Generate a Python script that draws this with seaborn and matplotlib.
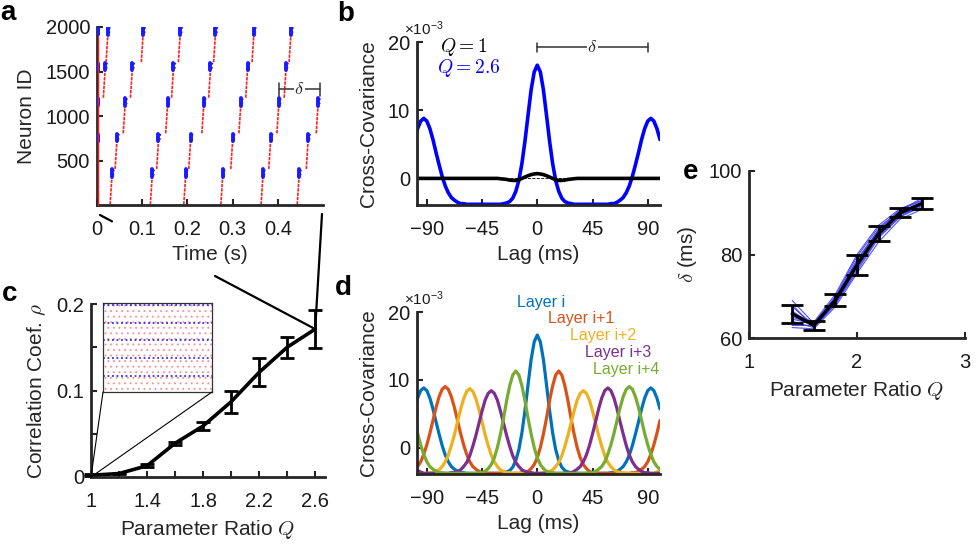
import numpy as np
import pandas as pd
import matplotlib
matplotlib.use("Agg")
import matplotlib.pyplot as plt
import seaborn as sns
from matplotlib.lines import Line2D
from matplotlib.patches import Rectangle, ConnectionPatch

# ---------------- data ----------------
# (a) raster: times (s) of the wave in each 400-neuron layer
layer0_bursts = [0.033, 0.122, 0.196, 0.278, 0.367, 0.447]
layer1_bursts = [0.044, 0.136, 0.207, 0.300, 0.384, 0.467]
layer2_bursts = [0.062, 0.156, 0.236, 0.318, 0.402, 0.489]
layer3_bursts = [0.018, 0.078, 0.169, 0.251, 0.333, 0.418]
layer4_bursts = [0.024, 0.102, 0.184, 0.262, 0.347, 0.429]
init_blue_layers = [1, 2, 3, 4]
a_xticks = [0, 0.1, 0.2, 0.3, 0.4]
a_yticks = [500, 1000, 1500, 2000]
a_delta_span = [0.403, 0.493]
a_delta_level = 1300

# (b), (d) cross-covariance (x 1e-3) vs lag (ms), lags -100 ... 100 step 2.5
lags = [-100 + 2.5 * k for k in range(81)]
cov_q1 = ([0.0] * 28
          + [-0.05, -0.1, -0.15, -0.25, -0.3, -0.3, -0.2, 0.0, 0.2, 0.4, 0.55, 0.65]
          + [0.7]
          + [0.65, 0.55, 0.4, 0.2, 0.0, -0.2, -0.3, -0.3, -0.25, -0.15, -0.1, -0.05]
          + [0.0] * 28)
cov_q26 = ([5.7, 7.3, 8.4, 8.8, 8.4, 7.3, 5.7, 3.8, 2.0, 0.3, -1.1, -2.1, -2.8, -3.2, -3.5, -3.7, -3.7]
           + [-3.8] * 12
           + [-3.7, -3.6, -3.4, -2.9, -1.9, -0.3, 2.2, 5.5, 9.3, 13.0, 15.6]
           + [16.6]
           + [15.6, 13.0, 9.3, 5.5, 2.2, -0.3, -1.9, -2.9, -3.4, -3.6, -3.7]
           + [-3.8] * 12
           + [-3.7, -3.7, -3.5, -3.2, -2.8, -2.1, -1.1, 0.3, 2.0, 3.8, 5.7, 7.3, 8.4, 8.8, 8.4, 7.3, 5.7])
cov_layer_i = cov_q26
cov_layer_i1 = ([-3.2, -2.8, -2.1, -1.0, 0.4, 2.1, 4.0, 5.9, 7.5, 8.6, 9.0, 8.6, 7.5, 5.9, 4.0, 2.1,
                 0.4, -1.0, -2.1, -2.8, -3.2, -3.5, -3.7, -3.7, -3.8]
                + [-3.8] * 10
                + [-3.7, -3.7, -3.5, -3.1, -2.5, -1.5, 0.0, 2.0, 4.3, 6.9, 9.1, 10.7, 11.3, 10.7, 9.1,
                   6.9, 4.3, 2.0, 0.0, -1.5, -2.5, -3.1, -3.5, -3.7, -3.7, -3.8]
                + [-3.8] * 10
                + [-3.7, -3.7, -3.5, -3.2, -2.8, -2.1, -1.0, 0.4, 2.1, 4.0])
cov_layer_i2 = ([-3.8, -3.8, -3.8, -3.8, -3.8, -3.7]
                + [-3.7, -3.5, -3.3, -2.8, -2.1, -1.1, 0.3, 1.9, 3.8, 5.6, 7.2, 8.3, 8.7, 8.3, 7.2,
                   5.6, 3.8, 1.9, 0.3, -1.1, -2.1, -2.8, -3.3, -3.5, -3.7, -3.7, -3.8]
                + [-3.8] * 9
                + [-3.7, -3.7, -3.5, -3.3, -2.8, -2.2, -1.2, 0.2, 1.8, 3.6, 5.4, 7.0, 8.0, 8.4, 8.0,
                   7.0, 5.4, 3.6, 1.8, 0.2, -1.2, -2.2, -2.8, -3.3, -3.5, -3.7, -3.7, -3.8]
                + [-3.8] * 9 + [-3.6, -3.4])
cov_layer_i3 = ([-3.0, -3.4, -3.6, -3.8]
                + [-3.8] * 8
                + [-3.7, -3.7, -3.5, -3.3, -2.8, -2.2, -1.2, 0.2, 1.8, 3.6, 5.4, 7.0, 8.0, 8.4, 8.0,
                   7.0, 5.4, 3.6, 1.8, 0.2, -1.2, -2.2, -2.8, -3.3, -3.5, -3.7, -3.7, -3.8]
                + [-3.8] * 10
                + [-3.7, -3.7, -3.5, -3.2, -2.8, -2.1, -1.1, 0.3, 2.0, 3.8, 5.7, 7.3, 8.4, 8.8, 8.4,
                   7.3, 5.7, 3.8, 2.0, 0.3, -1.1, -2.1, -2.8, -3.2, -3.5, -3.7, -3.7, -3.8, -3.8,
                   -3.8, -3.8])
cov_layer_i4 = ([4.0, 2.1, 0.4, -1.0, -2.1, -2.8, -3.2, -3.5, -3.7, -3.7]
                + [-3.8] * 10
                + [-3.8, -3.7, -3.7, -3.5, -3.1, -2.5, -1.5, 0.0, 2.0, 4.3, 6.9, 9.1, 10.7, 11.3, 10.7,
                   9.1, 6.9, 4.3, 2.0, 0.0, -1.5, -2.5, -3.1, -3.5, -3.7, -3.7]
                + [-3.8] * 10
                + [-3.8, -3.7, -3.7, -3.5, -3.2, -2.8, -2.1, -1.0, 0.4, 2.1, 4.0, 5.9, 7.5, 8.6, 9.0,
                   8.6, 7.5, 5.9, 4.0, 2.1, 0.4, -1.0, -2.1, -2.8, -3.2])
layer_names = ["Layer i", "Layer i+1", "Layer i+2", "Layer i+3", "Layer i+4"]
layer_colors = ["#0072BD", "#D95319", "#EDB120", "#7E2F8E", "#77AC30"]
lag_ticks = [-90, -45, 0, 45, 90]
cov_yticks = [0, 10, 20]
b_delta_span = [0, 90]
b_delta_level = 19.2

# (c) correlation coefficient vs Q
q_c = [1.0, 1.2, 1.4, 1.6, 1.8, 2.0, 2.2, 2.4, 2.6]
rho = [0.002, 0.004, 0.013, 0.039, 0.059, 0.087, 0.121, 0.150, 0.171]
rho_err = [0.001, 0.001, 0.002, 0.002, 0.005, 0.013, 0.016, 0.012, 0.022]
c_xticks = [1.0, 1.2, 1.4, 1.6, 1.8, 2.0, 2.2, 2.4, 2.6]
c_xlabels = ["1", "", "1.4", "", "1.8", "", "2.2", "", "2.6"]
c_yticks = [0, 0.05, 0.1, 0.15, 0.2]
c_ylabels = ["0", "", "0.1", "", "0.2"]
inset_inhib_rows = [360, 760, 1160, 1560, 1960]

# (e) wave period delta vs Q
q_e = [1.4, 1.6, 1.8, 2.0, 2.2, 2.4, 2.6]
delta_mean = [65.8, 63.0, 69.1, 77.5, 85.0, 90.0, 92.2]
delta_err = [2.2, 1.1, 1.5, 2.5, 1.75, 1.1, 1.3]
trace1 = [69.0, 63.5, 70.0, 79.5, 86.5, 90.5, 93.5]
trace2 = [67.5, 63.0, 69.5, 78.5, 86.0, 90.8, 92.8]
trace3 = [66.5, 62.8, 68.5, 77.0, 84.5, 89.5, 92.0]
trace4 = [65.0, 63.2, 69.0, 78.0, 85.5, 90.2, 92.5]
trace5 = [64.0, 62.5, 68.0, 76.0, 84.0, 89.0, 91.5]
trace6 = [63.0, 63.0, 68.8, 77.5, 85.0, 89.8, 91.0]
trace7 = [62.5, 62.2, 67.5, 75.5, 83.0, 88.5, 90.8]
trace8 = [66.0, 63.8, 70.5, 80.0, 87.0, 91.0, 93.0]
trace9 = [68.0, 62.6, 68.2, 76.5, 84.2, 89.2, 91.8]
trace10 = [64.5, 63.4, 69.6, 78.8, 85.8, 90.4, 92.2]

for series in (cov_q1, cov_q26, cov_layer_i1, cov_layer_i2, cov_layer_i3, cov_layer_i4):
    assert len(series) == len(lags), len(series)

# ---------------- style ----------------
sns.set_theme(style="ticks")
plt.rcParams["font.family"] = ["Liberation Sans", "DejaVu Sans"]
plt.rcParams["mathtext.fontset"] = "custom"
plt.rcParams["mathtext.rm"] = "Liberation Sans"
plt.rcParams["mathtext.it"] = "Liberation Sans:italic"
plt.rcParams["hatch.linewidth"] = 0.6

W, H = 977, 544
fig = plt.figure(figsize=(W / 100, H / 100), dpi=100)
fig.patch.set_facecolor("white")

SPINE = "#262626"
FS_TICK = 14.5
FS_LAB = 15


def rect(l, t, r, b):
    return [l / W, 1 - b / H, (r - l) / W, (b - t) / H]


def style(ax, xpad=11, ypad=5):
    sns.despine(ax=ax)
    for s in ["left", "bottom"]:
        ax.spines[s].set_linewidth(2.0)
        ax.spines[s].set_color(SPINE)
    ax.tick_params(direction="in", length=4, width=1.5, color=SPINE,
                   labelsize=FS_TICK, labelcolor="#1a1a1a")
    ax.tick_params(axis="x", pad=xpad)
    ax.tick_params(axis="y", pad=ypad)
    ax.set_facecolor("none")
    ax.grid(False)


def sci_label(ax):
    ax.annotate(r"$\times10^{-3}$", xy=(0, 1), xycoords="axes fraction",
                xytext=(-9, 3), textcoords="offset points", fontsize=11,
                ha="left", va="bottom", color="#1a1a1a")


# ---------------- (a) raster ----------------
ax_a = fig.add_axes(rect(97, 27, 323, 205))
layers = [layer0_bursts, layer1_bursts, layer2_bursts, layer3_bursts, layer4_bursts]
for L, times in enumerate(layers):
    base = 400 * L
    for t in times:
        ax_a.plot([t - 0.004, t], [base + 5, base + 320], color="#ff2020", lw=1.2,
                  ls=(0, (2, 0.6)))
        ax_a.plot([t, t], [base + 315, base + 400], color="#1a1aff", lw=2.8)
        ax_a.plot([t + 0.002, t + 0.009], [base + 392, base + 380], color="#1a1aff", lw=1.3,
                  ls=(0, (1, 1.5)))
        ax_a.plot([t + 0.002, t + 0.006], [base + 345, base + 335], color="#1a1aff", lw=1.1,
                  ls=(0, (1, 1.5)))
for L in init_blue_layers:
    ax_a.plot([0.003, 0.003], [400 * L + 320, 400 * L + 400], color="#1a1aff", lw=2.2, zorder=3)
ax_a.plot([0.002, 0.002], [0, 1900], color="#ff1a1a", lw=1.0, zorder=3, clip_on=False)
ax_a.set_xlim(0, 0.5)
ax_a.set_ylim(0, 2000)
ax_a.set_xticks(a_xticks)
ax_a.set_xticklabels(["0", "0.1", "0.2", "0.3", "0.4"])
ax_a.set_yticks(a_yticks)
style(ax_a)
ax_a.set_xlabel("Time (s)", fontsize=FS_LAB, labelpad=4)
ax_a.set_ylabel("Neuron ID", fontsize=FS_LAB, labelpad=7)
ax_a.plot(a_delta_span, [a_delta_level] * 2, color="#333333", lw=1.1)
for xv in a_delta_span:
    ax_a.plot([xv, xv], [a_delta_level - 70, a_delta_level + 70], color="#333333", lw=1.1)
ax_a.text(sum(a_delta_span) / 2, a_delta_level, r"$\delta$", math_fontfamily="cm",
          fontsize=13, ha="center", va="center",
          bbox=dict(facecolor="white", edgecolor="none", pad=0.5))

# ---------------- (b) ----------------
ax_b = fig.add_axes(rect(417, 42, 660, 205))
df_b = pd.DataFrame({
    "lag": lags * 2,
    "cov": cov_q26 + cov_q1,
    "Q": ["2.6"] * len(lags) + ["1"] * len(lags),
})
sns.lineplot(data=df_b, x="lag", y="cov", hue="Q", hue_order=["2.6", "1"],
             palette={"2.6": "#0000ff", "1": "black"}, lw=2.6, legend=False, ax=ax_b)
ax_b.axhline(0, color="black", lw=0.6, ls="--", zorder=1)
ax_b.set_xlim(-98, 100)
ax_b.set_ylim(-3.9, 20)
ax_b.set_xticks(lag_ticks)
ax_b.set_yticks(cov_yticks)
style(ax_b)
ax_b.set_xlabel("Lag (ms)", fontsize=FS_LAB, labelpad=4)
ax_b.set_ylabel("Cross-Covariance", fontsize=FS_LAB, labelpad=7)
sci_label(ax_b)
ax_b.text(0.095, 0.97, r"$Q = 1$", transform=ax_b.transAxes, math_fontfamily="cm",
          fontsize=14, color="black", ha="left", va="center")
ax_b.text(0.082, 0.84, r"$Q = 2.6$", transform=ax_b.transAxes, math_fontfamily="cm",
          fontsize=14, color="#0000ff", ha="left", va="center")
ax_b.plot(b_delta_span, [b_delta_level] * 2, color="#333333", lw=1.1)
for xv in b_delta_span:
    ax_b.plot([xv, xv], [b_delta_level - 0.6, b_delta_level + 0.6], color="#333333", lw=1.1)
ax_b.text(sum(b_delta_span) / 2, b_delta_level, r"$\delta$", math_fontfamily="cm",
          fontsize=13, ha="center", va="center",
          bbox=dict(facecolor="white", edgecolor="none", pad=0.5))

# ---------------- (c) ----------------
ax_c = fig.add_axes(rect(91, 304, 325, 477))
sns.lineplot(x=q_c, y=rho, color="black", lw=2.6, ax=ax_c)
ax_c.errorbar(q_c, rho, yerr=rho_err, fmt="none", ecolor="black", elinewidth=2,
              capsize=5, capthick=2, clip_on=False)
ax_c.set_xlim(1, 2.67)
ax_c.set_ylim(0, 0.2)
ax_c.set_xticks(c_xticks)
ax_c.set_xticklabels(c_xlabels)
ax_c.set_yticks(c_yticks)
ax_c.set_yticklabels(c_ylabels)
style(ax_c)
ax_c.set_xlabel(r"Parameter Ratio $Q$", fontsize=FS_LAB, labelpad=5, math_fontfamily="cm")
ax_c.set_ylabel(r"Correlation Coef. $\rho$", fontsize=FS_LAB, labelpad=6, math_fontfamily="cm")

# inset raster (Q = 1, asynchronous)
ax_in = fig.add_axes(rect(103, 303, 212, 392))
ax_in.set_xlim(0, 0.5)
ax_in.set_ylim(0, 2000)
ax_in.add_patch(Rectangle((0, 0), 1, 1, transform=ax_in.transAxes, facecolor="white",
                          edgecolor="#ff8c8c", hatch="...", lw=0))
ax_in.hlines(inset_inhib_rows, 0, 0.5, colors="#3030ff", lw=1.3, linestyles=(0, (1, 1.5)))
ax_in.set_xticks([0.1, 0.2, 0.3, 0.4])
ax_in.set_yticks([500, 1000, 1500])
ax_in.set_xticklabels([])
ax_in.set_yticklabels([])
ax_in.tick_params(direction="in", length=2.5, width=0.8, color="#333333")
for s in ax_in.spines.values():
    s.set_visible(True)
    s.set_linewidth(0.9)
    s.set_color("#333333")

for xa in (0, 1):
    con = ConnectionPatch(xyA=(xa, 0), coordsA=ax_in.transAxes, xyB=(q_c[0], 0.0),
                          coordsB=ax_c.transData, color="black", lw=0.8)
    fig.add_artist(con)

# ---------------- (d) ----------------
ax_d = fig.add_axes(rect(417, 312, 660, 474))
layer_series = [cov_layer_i, cov_layer_i1, cov_layer_i2, cov_layer_i3, cov_layer_i4]
df_d = pd.DataFrame({
    "lag": lags * 5,
    "cov": sum(layer_series, []),
    "layer": sum([[n] * len(lags) for n in layer_names], []),
})
sns.lineplot(data=df_d, x="lag", y="cov", hue="layer", hue_order=layer_names,
             palette=layer_colors, lw=2.3, legend=False, ax=ax_d)
ax_d.set_xlim(-98, 100)
ax_d.set_ylim(-3.9, 20)
ax_d.set_xticks(lag_ticks)
ax_d.set_yticks(cov_yticks)
style(ax_d)
ax_d.set_xlabel("Lag (ms)", fontsize=FS_LAB, labelpad=4)
ax_d.set_ylabel("Cross-Covariance", fontsize=FS_LAB, labelpad=7)
sci_label(ax_d)
label_pos = [(0.41, 1.06), (0.54, 0.957), (0.63, 0.858), (0.69, 0.753), (0.724, 0.648)]
for name, col, (xx, yy) in zip(layer_names, layer_colors, label_pos):
    ax_d.text(xx, yy, name, transform=ax_d.transAxes, color=col, fontsize=11.5,
              ha="left", va="center")

# ---------------- (e) ----------------
ax_e = fig.add_axes(rect(749, 171, 965, 338))
traces = [trace1, trace2, trace3, trace4, trace5, trace6, trace7, trace8, trace9, trace10]
df_e = pd.DataFrame({
    "Q": q_e * len(traces),
    "delta": sum(traces, []),
    "run": sum([[k] * len(q_e) for k in range(len(traces))], []),
})
sns.lineplot(data=df_e, x="Q", y="delta", units="run", estimator=None, color="#3333ff",
             lw=0.8, alpha=0.85, ax=ax_e)
sns.lineplot(x=q_e, y=delta_mean, color="black", lw=2.4, ax=ax_e)
ax_e.errorbar(q_e, delta_mean, yerr=delta_err, fmt="none", ecolor="black", elinewidth=2,
              capsize=8, capthick=2)
ax_e.set_xlim(1, 3)
ax_e.set_ylim(60, 100)
ax_e.set_xticks([1, 2, 3])
ax_e.set_yticks([60, 80, 100])
style(ax_e)
ax_e.set_xlabel(r"Parameter Ratio $Q$", fontsize=FS_LAB, labelpad=5, math_fontfamily="cm")
ax_e.set_ylabel(r"$\delta$ (ms)", fontsize=FS_LAB, labelpad=7, math_fontfamily="cm")

# ---------------- zoom connectors from (a) to (c) ----------------
target = fig.transFigure.inverted().transform(ax_c.transData.transform((q_c[-1], rho[-1])))


def fpt(x, y):
    return np.array([x / W, 1 - y / H])


p_left = fpt(100, 215)
p_right = fpt(322, 214)


def along(p0, p1, xcut):
    s = (xcut - p0[0]) / (p1[0] - p0[0])
    return p0 + s * (p1 - p0)


q1 = along(p_left, target, 112 / W)
q2 = along(p_left, target, 215 / W)
for seg in ([p_left, q1], [q2, target], [p_right, target]):
    fig.add_artist(Line2D([seg[0][0], seg[1][0]], [seg[0][1], seg[1][1]],
                          transform=fig.transFigure, color="black", lw=1.6))

# ---------------- panel letters ----------------
for letter, (x, y) in zip("abcde", [(8, 13), (346, 14), (10, 294), (343, 288), (691, 172)]):
    fig.text(x / W, 1 - y / H, letter, fontsize=20, fontweight="bold", ha="center",
             va="center", color="black")

fig.savefig("out.png", dpi=100)
